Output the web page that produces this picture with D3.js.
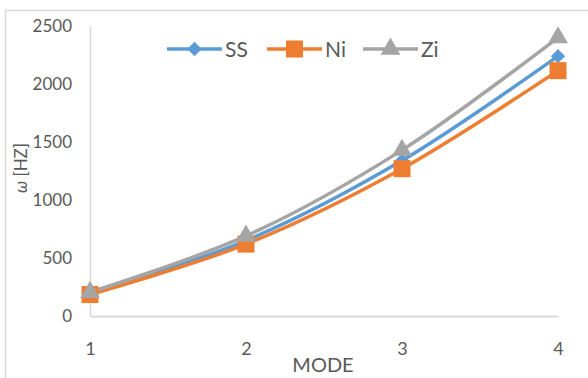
<!DOCTYPE html>
<html lang="en">
<head>
<meta charset="UTF-8">
<title>mode frequencies</title>
<style>
  body { margin: 0; background: #fff; }
  text { font-family: Lato, "Open Sans", sans-serif; fill: #595959; }
</style>
</head>
<body>
<div id="chart"></div>
<script src="https://d3js.org/d3.v7.min.js"></script>
<script>
// values
var modes = [1, 2, 3, 4];
var ssValues = [195, 650, 1340, 2240];
var niValues = [185, 620, 1270, 2115];
var ziValues = [205, 690, 1430, 2400];
var yTicks = [0, 500, 1000, 1500, 2000, 2500];
var seriesNames = ["SS", "Ni", "Zi"];

var series = [
  { name: seriesNames[0], values: ssValues, color: "#5B9BD5", symbol: d3.symbolDiamond2, size: 130 },
  { name: seriesNames[1], values: niValues, color: "#ED7D31", symbol: d3.symbolSquare, size: 290 },
  { name: seriesNames[2], values: ziValues, color: "#A5A5A5", symbol: d3.symbolTriangle, size: 170 }
];

var W = 588, H = 378;
var margin = { top: 26, right: 30, bottom: 62, left: 90 };

var svg = d3.select("#chart").append("svg")
  .attr("width", W).attr("height", H);

// outer chart border (right and bottom edges fall outside the picture)
svg.append("rect")
  .attr("x", 5.5).attr("y", 10.5)
  .attr("width", W + 10).attr("height", H + 10)
  .attr("fill", "none").attr("stroke", "#d9d9d9").attr("stroke-width", 1.5);

var x = d3.scaleLinear().domain([1, 4]).range([margin.left, W - margin.right]);
var y = d3.scaleLinear().domain([0, 2500]).range([H - margin.bottom, margin.top]);

// y axis
var yAxis = svg.append("g")
  .attr("transform", "translate(" + margin.left + ",0)")
  .call(d3.axisLeft(y).tickValues(yTicks).tickFormat(d3.format("d")).tickSize(0).tickPadding(18));
yAxis.select(".domain").attr("stroke", "#d9d9d9").attr("stroke-width", 1.5);
yAxis.selectAll("text").style("font-size", "17px").attr("fill", "#595959");

// x axis
var xAxis = svg.append("g")
  .attr("transform", "translate(0," + y(0) + ")")
  .call(d3.axisBottom(x).tickValues(modes).tickFormat(d3.format("d")).tickSize(0).tickPadding(26));
xAxis.select(".domain").attr("stroke", "#d9d9d9").attr("stroke-width", 2);
xAxis.selectAll("text").style("font-size", "18px").attr("fill", "#595959");

// axis titles
svg.append("text")
  .attr("x", 323).attr("y", 372)
  .attr("text-anchor", "middle")
  .style("font-size", "20px")
  .text("MODE");

var yTitle = svg.append("text")
  .attr("transform", "translate(27,168) rotate(-90)")
  .attr("text-anchor", "middle")
  .style("font-size", "17px");
yTitle.append("tspan").style("font-style", "italic").text("ω");
yTitle.append("tspan").text(" [HZ]");

// lines
var line = d3.line()
  .x(function (d, i) { return x(modes[i]); })
  .y(function (d) { return y(d); })
  .curve(d3.curveCatmullRom.alpha(0.5));

series.forEach(function (s) {
  svg.append("path")
    .datum(s.values)
    .attr("fill", "none")
    .attr("stroke", s.color)
    .attr("stroke-width", 3.5)
    .attr("d", line);
});

// markers
series.forEach(function (s) {
  svg.append("g").selectAll("path")
    .data(s.values)
    .join("path")
    .attr("transform", function (d, i) { return "translate(" + x(modes[i]) + "," + y(d) + ")"; })
    .attr("d", d3.symbol().type(s.symbol).size(s.size))
    .attr("fill", s.color);
});

// legend
var legendX = [167, 267, 363];
var legend = svg.append("g").attr("transform", "translate(0,49)");
series.forEach(function (s, i) {
  var g = legend.append("g").attr("transform", "translate(" + legendX[i] + ",0)");
  g.append("line")
    .attr("x1", 0).attr("x2", 55)
    .attr("stroke", s.color).attr("stroke-width", 3.5);
  g.append("path")
    .attr("transform", "translate(27.5,0)")
    .attr("d", d3.symbol().type(s.symbol).size(s.size))
    .attr("fill", s.color);
  g.append("text")
    .attr("x", 58).attr("dy", "0.36em")
    .style("font-size", "21px")
    .text(s.name);
});
</script>
</body>
</html>
